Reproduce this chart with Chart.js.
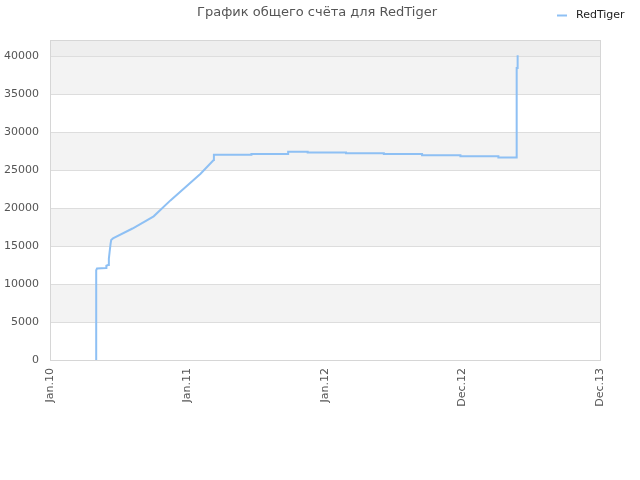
<!DOCTYPE html>
<html>
<head>
<meta charset="utf-8">
<script src="https://cdn.jsdelivr.net/npm/chart.js@4/dist/chart.umd.min.js"></script>
<style>
  html, body { margin: 0; padding: 0; background: #fff; }
  #wrap { width: 640px; height: 480px; }
</style>
</head>
<body>
<div id="wrap"><canvas id="chart"></canvas></div>
<script>
var chartTitle = "График общего счёта для RedTiger";
var seriesName = "RedTiger";
var xLabels = ["Jan.10", "Jan.11", "Jan.12", "Dec.12", "Dec.13"];
var yTicks = [0, 5000, 10000, 15000, 20000, 25000, 30000, 35000, 40000];
// positions in label units (0 = Jan.10 ... 4 = Dec.13)
var seriesX = [0.336, 0.336, 0.342, 0.408, 0.41, 0.422, 0.428, 0.434, 0.44, 0.445, 0.458, 0.6, 0.754, 0.876, 1.095, 1.19, 1.192,
  1.192, 1.465, 1.465, 1.732, 1.732, 1.874, 1.874, 2.153, 2.153, 2.428, 2.428, 2.706, 2.706, 2.985, 2.985, 3.261, 3.261, 3.394, 3.394, 3.401, 3.401];
var seriesY = [0, 11800, 12050, 12100, 12400, 12500, 13300, 14300, 15200, 15800, 16000, 17300, 18900, 21000, 24500, 26300, 26450,
  27000, 27000, 27100, 27100, 27400, 27400, 27300, 27300, 27200, 27200, 27100, 27100, 26950, 26950, 26800, 26800, 26650, 26650, 38400, 38400, 40100];
var yMax = 42100;

var points = [];
for (var i = 0; i < seriesX.length; i++) {
  points.push({x: seriesX[i], y: seriesY[i]});
}

// alternating background bands + top band + outer frame
var bandsPlugin = {
  id: 'bands',
  beforeDatasetsDraw: function(chart) {
    var ctx = chart.ctx, a = chart.chartArea, ys = chart.scales.y;
    ctx.save();
    var edges = yTicks.concat([yMax]);
    for (var k = 0; k < edges.length - 1; k++) {
      var top = ys.getPixelForValue(edges[k + 1]);
      var bot = ys.getPixelForValue(edges[k]);
      if (k === edges.length - 2) ctx.fillStyle = '#eeeeee';
      else ctx.fillStyle = (k % 2 === 1) ? '#f3f3f3' : '#ffffff';
      ctx.fillRect(a.left, top, a.right - a.left, bot - top);
    }
    ctx.strokeStyle = '#dddddd';
    ctx.lineWidth = 1;
    for (var j = 1; j < yTicks.length; j++) {
      var py = Math.round(ys.getPixelForValue(yTicks[j])) + 0.5;
      ctx.beginPath(); ctx.moveTo(a.left, py); ctx.lineTo(a.right, py); ctx.stroke();
    }
    ctx.strokeStyle = '#d6d6d6';
    ctx.strokeRect(a.left + 0.5, a.top + 0.5, a.right - a.left, a.bottom - a.top);
    ctx.restore();
  },
  afterDraw: function(chart) {
    var ctx = chart.ctx;
    ctx.save();
    ctx.fillStyle = '#555555';
    ctx.font = '13px "DejaVu Sans"';
    ctx.textAlign = 'center';
    ctx.textBaseline = 'middle';
    ctx.fillText(chartTitle, 317, 13);
    ctx.strokeStyle = '#8ec0f4';
    ctx.lineWidth = 2;
    ctx.beginPath(); ctx.moveTo(557, 15.5); ctx.lineTo(567, 15.5); ctx.stroke();
    ctx.fillStyle = '#222222';
    ctx.font = '11px "DejaVu Sans"';
    ctx.textAlign = 'left';
    ctx.fillText(seriesName, 576, 15);
    ctx.restore();
  }
};

new Chart(document.getElementById('chart'), {
  type: 'line',
  data: {
    datasets: [{
      label: seriesName,
      data: points,
      borderColor: '#8ec0f4',
      borderWidth: 2,
      pointRadius: 0,
      fill: false,
      tension: 0
    }]
  },
  options: {
    responsive: true,
    maintainAspectRatio: false,
    animation: false,
    layout: { padding: { left: 0, right: 40, top: 40, bottom: 0 } },
    plugins: {
      legend: { display: false },
      title: { display: false },
      tooltip: { enabled: false }
    },
    scales: {
      x: {
        type: 'linear',
        min: 0,
        max: 4,
        grid: { display: false, drawTicks: false },
        border: { display: true, color: '#d6d6d6' },
        afterFit: function(s) { s.height = 120; },
        ticks: {
          stepSize: 1,
          autoSkip: false,
          maxRotation: 90,
          minRotation: 90,
          padding: 8,
          color: '#555555',
          font: { family: 'DejaVu Sans', size: 11 },
          callback: function(v) { return xLabels[v] !== undefined ? xLabels[v] : ''; }
        }
      },
      y: {
        min: 0,
        max: yMax,
        afterBuildTicks: function(s) {
          s.ticks = yTicks.map(function(v) { return {value: v}; });
        },
        afterFit: function(s) { s.width = 50; },
        grid: { display: false, drawTicks: false },
        border: { display: true, color: '#d6d6d6' },
        ticks: {
          autoSkip: false,
          padding: 11,
          color: '#555555',
          font: { family: 'DejaVu Sans', size: 11 },
          callback: function(v) { return String(v); }
        }
      }
    }
  },
  plugins: [bandsPlugin]
});
</script>
</body>
</html>
